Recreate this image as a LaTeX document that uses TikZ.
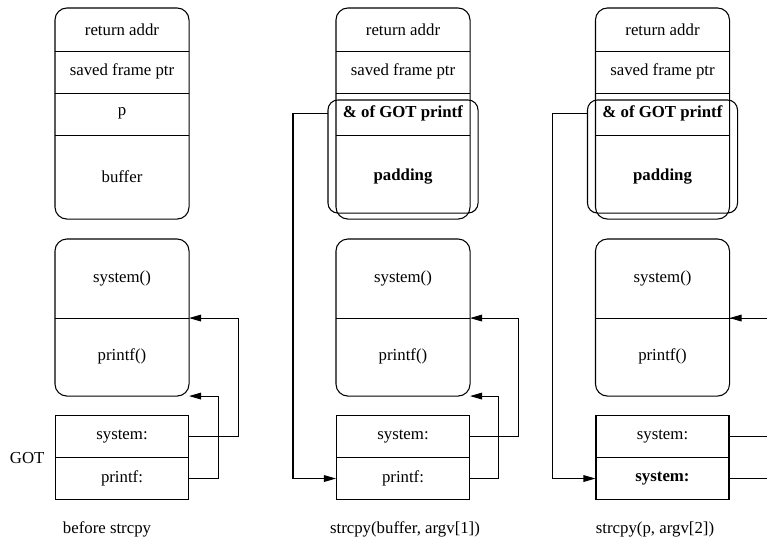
\documentclass[tikz,border=0pt]{standalone}
\usepackage{fontspec}
\setmainfont{Liberation Serif}
\usetikzlibrary{arrows.meta}
\newcommand{\widthcell}{99.75pt}
\newcommand{\heightcell}{31.5pt}
\newcommand{\heightbuffer}{63pt}
\newcommand{\heightfunc}{58.5pt}
\tikzset{
    cell/.style={anchor=north, rectangle, inner sep=0pt, minimum width=\widthcell, minimum height=\heightcell},
    buffercell/.style={cell, minimum height=\heightbuffer},
    funccell/.style={cell, minimum height=\heightfunc},
    gotcell/.style={cell, draw},
    stackframe/.style={draw, rounded corners=9pt},
    hijack/.style={draw, rounded corners=7.5pt},
    ptr/.style={-{Triangle[length=9pt, width=5pt]}}
}
\begin{document}
\begin{tikzpicture}[x=0.75pt, y=0.75pt, line width=0.8pt, font=\fontsize{12.6pt}{15pt}\selectfont]
        \useasboundingbox (0,0) rectangle (767,542);
        \clip (0,0) rectangle (767,542);

        % before strcpy
        \path
            (122,534) node[cell] (ret1) {return addr}
            ++(270:\heightcell) node[cell] (sfp1) {saved frame ptr}
            ++(270:\heightcell) node[cell] (p1) {p}
            ++(270:\heightcell) node[buffercell] (buf1) {buffer};
        \path
            (122,303) node[funccell] (sysfn1) {system()}
            ++(270:\heightfunc) node[funccell] (prfn1) {printf()};
        \path
            (122,127) node[gotcell] (gotsys1) {system:}
            ++(270:\heightcell) node[gotcell] (gotpr1) {printf:};
        \node[anchor=east, inner sep=0pt] (got) at ([shift={(-10,0)}]gotsys1.south west) {GOT};
        \node (cap1) at (107,13) {before strcpy};

        \draw[stackframe] (ret1.north west) rectangle (buf1.south east);
        \draw (ret1.south west) -- (ret1.south east) (sfp1.south west) -- (sfp1.south east) (p1.south west) -- (p1.south east);
        \draw[stackframe] (sysfn1.north west) rectangle (prfn1.south east);
        \draw (sysfn1.south west) -- (sysfn1.south east);
        \draw[ptr] (gotsys1.east) -- ++(49,0) |- (sysfn1.south east);
        \draw[ptr] (gotpr1.east) -- ++(29,0) |- (prfn1.south east);

        % strcpy(buffer, argv[1])
        \path
            (403,534) node[cell] (ret2) {return addr}
            ++(270:\heightcell) node[cell] (sfp2) {saved frame ptr}
            ++(270:\heightcell) node[cell] (p2) {\textbf{\& of GOT printf}}
            ++(270:\heightcell) node[buffercell] (buf2) {\textbf{padding}};
        \path
            (403,303) node[funccell] (sysfn2) {system()}
            ++(270:\heightfunc) node[funccell] (prfn2) {printf()};
        \path
            (403,127) node[gotcell] (gotsys2) {system:}
            ++(270:\heightcell) node[gotcell] (gotpr2) {printf:};
        \node (cap2) at (405,13) {strcpy(buffer, argv[1])};
        \coordinate (hj2) at ([shift={(-8,0)}]p2.west);

        \draw[stackframe] (ret2.north west) rectangle (buf2.south east);
        \draw (ret2.south west) -- (ret2.south east) (sfp2.south west) -- (sfp2.south east) (p2.south west) -- (p2.south east);
        \draw[hijack] ([shift={(-8,-8)}]p2.north west) rectangle ([shift={(8,6)}]buf2.south east);
        \draw[stackframe] (sysfn2.north west) rectangle (prfn2.south east);
        \draw (sysfn2.south west) -- (sysfn2.south east);
        \draw[ptr] (hj2) -- ++(-35,0) |- (gotpr2.west);
        \draw[ptr] (gotsys2.east) -- ++(48,0) |- (sysfn2.south east);
        \draw[ptr] (gotpr2.east) -- ++(28,0) |- (prfn2.south east);

        % strcpy(p, argv[2])
        \path
            (662.5,534) node[cell] (ret3) {return addr}
            ++(270:\heightcell) node[cell] (sfp3) {saved frame ptr}
            ++(270:\heightcell) node[cell] (p3) {\textbf{\& of GOT printf}}
            ++(270:\heightcell) node[buffercell] (buf3) {\textbf{padding}};
        \path
            (662.5,303) node[funccell] (sysfn3) {system()}
            ++(270:\heightfunc) node[funccell] (prfn3) {printf()};
        \path
            (662.5,127) node[gotcell] (gotsys3) {system:}
            ++(270:\heightcell) node[gotcell] (gotpr3) {\textbf{system:}};
        \node (cap3) at (655,13) {strcpy(p, argv[2])};
        \coordinate (hj3) at ([shift={(-8,0)}]p3.west);

        \draw[stackframe] (ret3.north west) rectangle (buf3.south east);
        \draw (ret3.south west) -- (ret3.south east) (sfp3.south west) -- (sfp3.south east) (p3.south west) -- (p3.south east);
        \draw[hijack] ([shift={(-8,-8)}]p3.north west) rectangle ([shift={(8,6)}]buf3.south east);
        \draw[stackframe] (sysfn3.north west) rectangle (prfn3.south east);
        \draw (sysfn3.south west) -- (sysfn3.south east);
        \draw[ptr] (hj3) -- ++(-35,0) |- (gotpr3.west);
        \draw[ptr] (gotsys3.east) -- ++(48,0) |- (sysfn3.south east);
        \draw (gotpr3.east) -- ++(48,0) |- (sysfn3.south east);
    \end{tikzpicture}
\end{document}
